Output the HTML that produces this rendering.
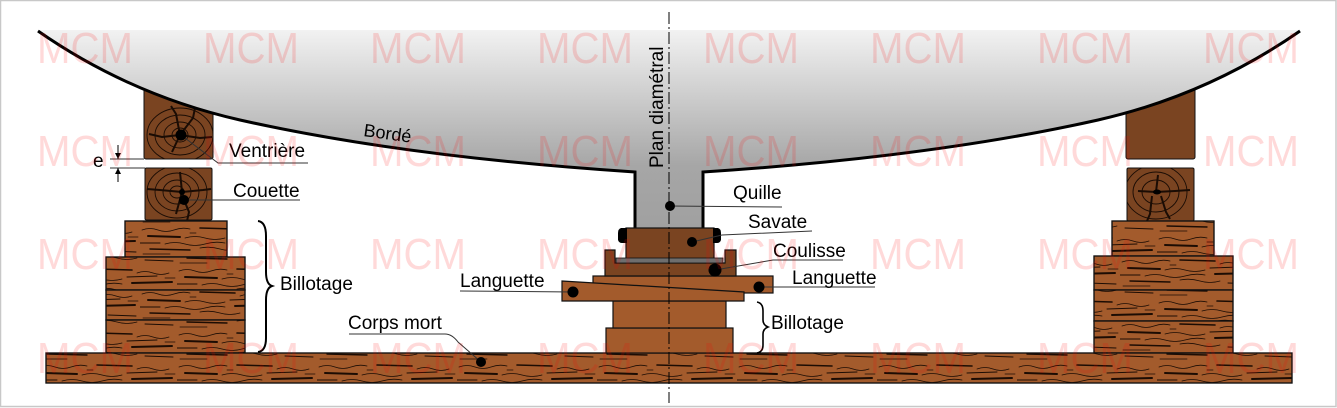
<!DOCTYPE html>
<html><head><meta charset="utf-8"><style>
html,body{margin:0;padding:0;background:#fff;}
svg{display:block;}
text{font-family:"Liberation Sans",sans-serif;}
</style></head><body>
<svg width="1337" height="408" viewBox="0 0 1337 408" xmlns="http://www.w3.org/2000/svg">
<defs>
<linearGradient id="hullg" x1="0" y1="30" x2="0" y2="230" gradientUnits="userSpaceOnUse">
<stop offset="0" stop-color="#f2f2f2"/>
<stop offset="0.68" stop-color="#a6a6a6"/>
<stop offset="1" stop-color="#a0a0a0"/>
</linearGradient>
<pattern id="grain" x="0" y="0" width="140" height="32" patternUnits="userSpaceOnUse">
<g fill="none" stroke="#1c0c03" stroke-linecap="round">
<path d="M2 6 Q10 3 18 6 T34 6 T50 5" stroke-width="0.8"/>
<path d="M60 4 L95 5" stroke-width="1.6"/>
<path d="M100 8 Q108 5 116 8 T132 8" stroke-width="0.8"/>
<path d="M8 12 L40 13" stroke-width="2"/>
<path d="M45 14 Q55 11 65 14 T85 14" stroke-width="0.8"/>
<path d="M90 12 L120 11" stroke-width="1"/>
<path d="M0 19 L20 19" stroke-width="1"/>
<path d="M25 20 Q35 17 45 20 T65 20 T85 19" stroke-width="0.8"/>
<path d="M95 18 L135 17" stroke-width="2"/>
<path d="M10 25 L50 26" stroke-width="1.4"/>
<path d="M60 24 Q70 22 80 25 T100 25" stroke-width="0.8"/>
<path d="M108 27 L136 28" stroke-width="1"/>
<path d="M128 13 L138 13" stroke-width="0.8"/>
<path d="M50 9 L56 9" stroke-width="0.8"/>
<path d="M3 30 L30 30" stroke-width="0.8"/>
</g>
</pattern>
<pattern id="grain2" x="37" y="9" width="140" height="32" patternUnits="userSpaceOnUse">
<rect width="140" height="32" fill="url(#grain)"/>
</pattern>
<clipPath id="cv1"><rect x="144" y="80" width="69" height="79"/></clipPath>
<clipPath id="cc1"><rect x="145" y="168" width="67" height="52"/></clipPath>
<clipPath id="cc2"><rect x="1127" y="168" width="67" height="53"/></clipPath>
</defs>

<!-- border -->
<rect x="0.5" y="0.5" width="1335.5" height="406" fill="#fff" stroke="#c8c8c8" stroke-width="1.5"/>

<!-- left stack -->
<rect x="144" y="80" width="69" height="79" rx="2" fill="#7a4421" stroke="#111" stroke-width="1"/>
<g clip-path="url(#cv1)" fill="none" stroke="#1a0c04" stroke-width="0.9">
<ellipse cx="180" cy="135" rx="33" ry="27"/>
<ellipse cx="180" cy="135" rx="25" ry="20"/>
<ellipse cx="180" cy="135" rx="16" ry="13"/>
<ellipse cx="180" cy="135" rx="8" ry="7"/>
<path d="M180 135 L176 114 L171 106 M180 135 L193 118 L195 108 M180 135 L162 137 L149 134 M180 135 L172 152 M180 135 L200 138 L212 137" stroke-width="2"/>
</g>
<rect x="145" y="168" width="67" height="52" rx="1.5" fill="#7a4421" stroke="#111" stroke-width="1"/>
<g clip-path="url(#cc1)" fill="none" stroke="#1a0c04" stroke-width="0.9">
<ellipse cx="177" cy="192" rx="30" ry="26"/>
<ellipse cx="177" cy="192" rx="22" ry="19"/>
<ellipse cx="177" cy="192" rx="14" ry="12"/>
<ellipse cx="177" cy="192" rx="7" ry="6"/>
<path d="M182 192 L180 172 M182 192 L203 190 L211 189 M182 192 L160 190 L147 189 M182 192 L176 214 M184 200 L189 212 L187 221" stroke-width="2"/>
</g>
<circle cx="182" cy="192" r="3" fill="#000"/>

<g stroke="#111" stroke-width="1.2">
<rect x="125" y="221" width="102" height="36" fill="#a35b2c"/>
<rect x="125" y="221" width="102" height="36" fill="url(#grain)"/>
<rect x="106" y="257" width="139" height="33" fill="#a35b2c"/>
<rect x="106" y="257" width="139" height="33" fill="url(#grain2)"/>
<rect x="106" y="290" width="139" height="30" fill="#a35b2c"/>
<rect x="106" y="290" width="139" height="30" fill="url(#grain)"/>
<rect x="106" y="320" width="139" height="33" fill="#a35b2c"/>
<rect x="106" y="320" width="139" height="33" fill="url(#grain2)"/>
</g>

<!-- right stack -->
<rect x="1126" y="80" width="69" height="79" rx="2" fill="#7a4421" stroke="#111" stroke-width="1"/>
<rect x="1127" y="168" width="67" height="53" rx="1.5" fill="#7a4421" stroke="#111" stroke-width="1"/>
<g clip-path="url(#cc2)" fill="none" stroke="#1a0c04" stroke-width="0.9">
<ellipse cx="1156" cy="192" rx="31" ry="27"/>
<ellipse cx="1156" cy="192" rx="23" ry="20"/>
<ellipse cx="1156" cy="192" rx="14" ry="12"/>
<path d="M1156 192 L1158 175 M1156 192 L1175 191 L1190 190 M1156 192 L1138 191 M1152 196 L1150 214 L1147 221 M1161 196 L1166 212 L1170 219" stroke-width="2"/>
</g>
<ellipse cx="1157" cy="192" rx="4" ry="2.5" fill="#000"/>
<g stroke="#111" stroke-width="1.2">
<rect x="1112" y="221" width="102" height="35" fill="#a35b2c"/>
<rect x="1112" y="221" width="102" height="35" fill="url(#grain2)"/>
<rect x="1094" y="256" width="139" height="34" fill="#a35b2c"/>
<rect x="1094" y="256" width="139" height="34" fill="url(#grain)"/>
<rect x="1094" y="290" width="139" height="31" fill="#a35b2c"/>
<rect x="1094" y="290" width="139" height="31" fill="url(#grain2)"/>
<rect x="1094" y="321" width="139" height="32" fill="#a35b2c"/>
<rect x="1094" y="321" width="139" height="32" fill="url(#grain)"/>
</g>

<!-- corps mort -->
<rect x="46" y="353" width="1246" height="30" fill="#a35b2c" stroke="#111" stroke-width="1.2"/>
<rect x="46" y="353" width="1246" height="30" fill="url(#grain2)" stroke="#111" stroke-width="1.2"/>

<!-- hull -->
<path d="M38 30 L1300 30 Q1208 95 1098 120 Q933 157 703 172 L703 229 L635 229 L635 172 Q405 157 240 120 Q130 95 38 30 Z" fill="url(#hullg)"/>
<path d="M38 31 Q130 95 240 120 Q405 157 635 172 L635 229" fill="none" stroke="#000" stroke-width="3"/>
<path d="M1300 31 Q1208 95 1098 120 Q933 157 703 172 L703 229" fill="none" stroke="#000" stroke-width="3"/>

<!-- center stack -->
<g stroke="#111" stroke-width="1.2">
<rect x="606" y="328" width="127" height="25" fill="#a35b2c"/>
<rect x="613" y="301" width="113" height="27" fill="#a35b2c"/>
<rect x="593" y="276" width="180" height="17" fill="#a35b2c"/>
<path d="M562 281 L744 292 L744 301 L562 301 Z" fill="#a35b2c"/>
<path d="M605 250 L615 250 L615 263 L725 263 L725 250 L736 250 L736 276 L605 276 Z" fill="#7a4421"/>
<rect x="626" y="228" width="88" height="31" fill="#7a4421"/>
<rect x="616" y="258" width="107" height="5" fill="#6e6e6e" stroke-width="0.8"/>
</g>
<path d="M627 228 L621 228 Q618 229 618 233 L618 240 Q619 243 622 243 L627 243 Z" fill="#000"/>
<path d="M713 228 L718 228 Q721 229 721 233 L721 240 Q720 243 717 243 L713 243 Z" fill="#000"/>

<!-- center line -->
<line x1="669" y1="12" x2="669" y2="403" stroke="#000" stroke-width="1" stroke-dasharray="12 3 2 3"/>

<!-- leaders -->
<g fill="none" stroke="#333" stroke-width="1">
<path d="M181 135 L218 163 L308 163"/>
<path d="M184 200 L300 200"/>
<path d="M110 159 L144 159 M110 168 L145 168"/>
<path d="M118 145 L118 159 M118 168 L118 182" stroke="#000"/>
<path d="M349 334 L445 334 Q452 334 458 342 L481 362"/>
<path d="M670 206 L782 207"/>
<path d="M692 242 L722 235 L812 231"/>
<path d="M715 270 L773 260 L843 260"/>
<path d="M759 287 L875 287"/>
<path d="M460 291 L573 292"/>
</g>
<path d="M115 153 L121 153 L118 159 Z M115 174 L121 174 L118 168 Z" fill="#000"/>
<g fill="#000">
<circle cx="181" cy="135" r="5.5"/>
<circle cx="184" cy="200" r="5"/>
<circle cx="481" cy="362" r="5"/>
<circle cx="670" cy="206" r="5"/>
<circle cx="692" cy="242" r="5"/>
<circle cx="715" cy="270" r="6.5"/>
<circle cx="759" cy="287" r="5.5"/>
<circle cx="573" cy="292" r="5.5"/>
</g>

<!-- braces -->
<path d="M258 221 Q266 222 266 236 L266 272 Q266 284 272 286 Q266 288 266 300 L266 338 Q266 351 258 352" fill="none" stroke="#000" stroke-width="2"/>
<path d="M757 302 Q763 303 763 311 L763 320 Q763 325 768 327 Q763 329 763 334 L763 345 Q763 352 757 353" fill="none" stroke="#000" stroke-width="1.6"/>

<!-- labels -->
<g font-size="19" fill="#000">
<text x="229" y="157">Ventrière</text>
<text x="233" y="197">Couette</text>
<text x="93" y="167">e</text>
<text x="280" y="290">Billotage</text>
<text x="348" y="329">Corps mort</text>
<text x="733" y="199">Quille</text>
<text x="748" y="228">Savate</text>
<text x="773" y="257">Coulisse</text>
<text x="792" y="284">Languette</text>
<text x="460" y="287">Languette</text>
<text x="771" y="329">Billotage</text>
<text transform="translate(663,168) rotate(-90)">Plan diamétral</text>
<text font-size="18" transform="translate(363,136) rotate(8)">Bordé</text>
</g>

<!-- watermarks -->
<g font-size="44" fill="rgba(255,0,0,0.15)">
<text x="37" y="63" textLength="96" lengthAdjust="spacingAndGlyphs">MCM</text>
<text x="203" y="63" textLength="96" lengthAdjust="spacingAndGlyphs">MCM</text>
<text x="370" y="63" textLength="96" lengthAdjust="spacingAndGlyphs">MCM</text>
<text x="537" y="63" textLength="96" lengthAdjust="spacingAndGlyphs">MCM</text>
<text x="703" y="63" textLength="96" lengthAdjust="spacingAndGlyphs">MCM</text>
<text x="870" y="63" textLength="96" lengthAdjust="spacingAndGlyphs">MCM</text>
<text x="1037" y="63" textLength="96" lengthAdjust="spacingAndGlyphs">MCM</text>
<text x="1203" y="63" textLength="96" lengthAdjust="spacingAndGlyphs">MCM</text>
<text x="37" y="166" textLength="96" lengthAdjust="spacingAndGlyphs">MCM</text>
<text x="203" y="166" textLength="96" lengthAdjust="spacingAndGlyphs">MCM</text>
<text x="370" y="166" textLength="96" lengthAdjust="spacingAndGlyphs">MCM</text>
<text x="537" y="166" textLength="96" lengthAdjust="spacingAndGlyphs">MCM</text>
<text x="703" y="166" textLength="96" lengthAdjust="spacingAndGlyphs">MCM</text>
<text x="870" y="166" textLength="96" lengthAdjust="spacingAndGlyphs">MCM</text>
<text x="1037" y="166" textLength="96" lengthAdjust="spacingAndGlyphs">MCM</text>
<text x="1203" y="166" textLength="96" lengthAdjust="spacingAndGlyphs">MCM</text>
<text x="37" y="269" textLength="96" lengthAdjust="spacingAndGlyphs">MCM</text>
<text x="203" y="269" textLength="96" lengthAdjust="spacingAndGlyphs">MCM</text>
<text x="370" y="269" textLength="96" lengthAdjust="spacingAndGlyphs">MCM</text>
<text x="537" y="269" textLength="96" lengthAdjust="spacingAndGlyphs">MCM</text>
<text x="703" y="269" textLength="96" lengthAdjust="spacingAndGlyphs">MCM</text>
<text x="870" y="269" textLength="96" lengthAdjust="spacingAndGlyphs">MCM</text>
<text x="1037" y="269" textLength="96" lengthAdjust="spacingAndGlyphs">MCM</text>
<text x="1203" y="269" textLength="96" lengthAdjust="spacingAndGlyphs">MCM</text>
<text x="37" y="373" textLength="96" lengthAdjust="spacingAndGlyphs">MCM</text>
<text x="203" y="373" textLength="96" lengthAdjust="spacingAndGlyphs">MCM</text>
<text x="370" y="373" textLength="96" lengthAdjust="spacingAndGlyphs">MCM</text>
<text x="537" y="373" textLength="96" lengthAdjust="spacingAndGlyphs">MCM</text>
<text x="703" y="373" textLength="96" lengthAdjust="spacingAndGlyphs">MCM</text>
<text x="870" y="373" textLength="96" lengthAdjust="spacingAndGlyphs">MCM</text>
<text x="1037" y="373" textLength="96" lengthAdjust="spacingAndGlyphs">MCM</text>
<text x="1203" y="373" textLength="96" lengthAdjust="spacingAndGlyphs">MCM</text>
</g>
</svg>
</body></html>
